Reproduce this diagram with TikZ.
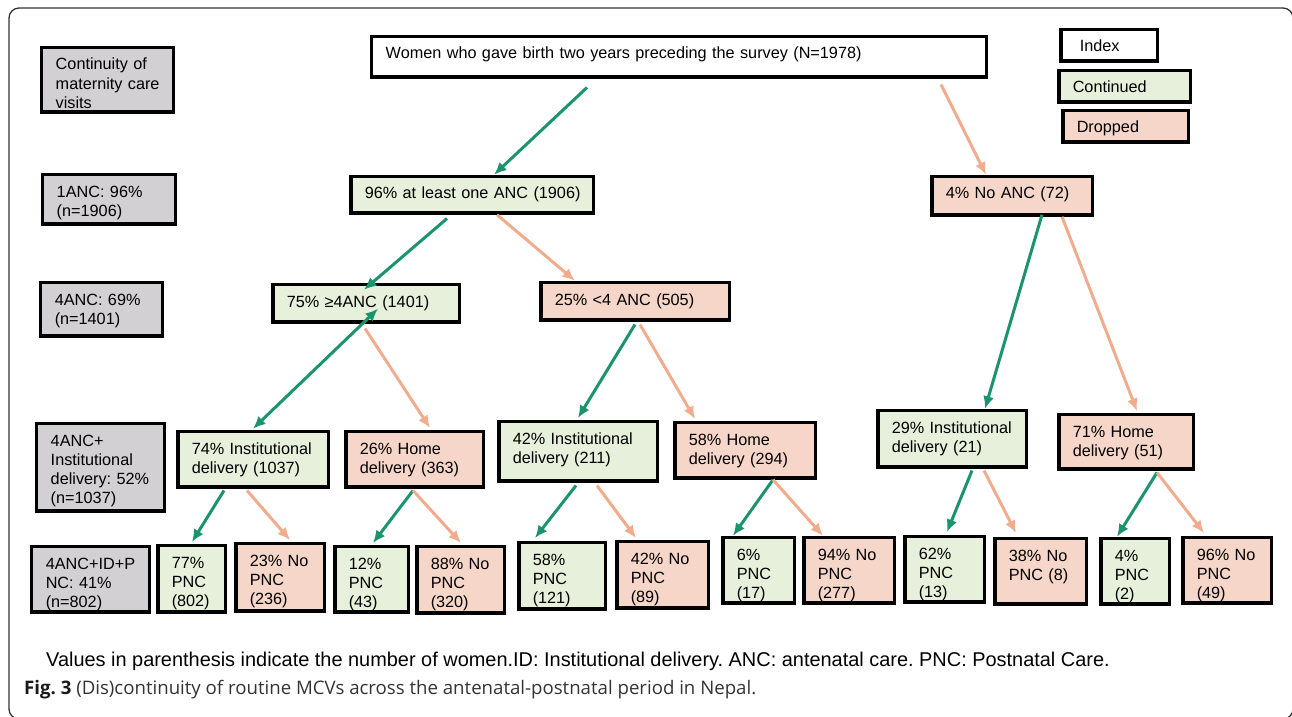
\documentclass[tikz,border=0pt]{standalone}
\usepackage{fontspec}
\setmainfont{Liberation Sans}
\newfontfamily\capfont{Open Sans}
\usetikzlibrary{arrows.meta}
\definecolor{gfill}{HTML}{E6F0DA}
\definecolor{pfill}{HTML}{F6D6C8}
\definecolor{kfill}{HTML}{D2D0D2}
\definecolor{garr}{HTML}{1B936F}
\definecolor{parr}{HTML}{F0AC8C}
\definecolor{capgray}{HTML}{333333}
\frenchspacing
\newcommand\bxt[1]{\begin{tabular}[t]{@{}l@{}}#1\end{tabular}}
% #1 style, #2 name, #3 x1, #4 y1, #5 x2, #6 y2, #7 text
\newcommand\mkbox[7]{%
  \pgfmathsetmacro\mkW{#5-#3-3.5}%
  \pgfmathsetmacro\mkT{#5-#3-3.5-28}%
  \pgfmathsetmacro\mkD{#6-#4-3.5-22.5}%
  \pgfmathsetmacro\mkX{(#3+#5)/2}%
  \pgfmathsetmacro\mkY{#4+1.75}%
  \node[#1, anchor=north, minimum width=\mkW bp, text width=\mkT bp,
        text height=22.5bp, text depth=\mkD bp] (#2) at (\mkX,\mkY) {\bxt{#7}};}
\begin{document}
\begin{tikzpicture}[x=1bp,y=-1bp,
  box/.style={draw=black, line width=3.5bp, inner xsep=14bp, inner ysep=0pt,
    align=left, font=\fontsize{16.3}{19.3}\selectfont},
  kbox/.style={box, fill=kfill},
  wbox/.style={box, fill=white},
  gbox/.style={box, fill=gfill},
  pbox/.style={box, fill=pfill},
  garrow/.style={draw=garr, line width=3bp, -{Latex[length=12.5bp,width=11bp]}},
  parrow/.style={draw=parr, line width=3bp, -{Latex[length=12.5bp,width=11bp]}},
  gdouble/.style={draw=garr, line width=3bp, {Latex[length=12.5bp,width=11bp]}-{Latex[length=12.5bp,width=11bp]}},
  frame/.style={draw=black!80, line width=1.3bp, rounded corners=10bp}]
\useasboundingbox (0,0) rectangle (1292,717);
\draw[frame] (9,8) rectangle (1293,719);

% row labels
\mkbox{kbox}{L0}{40}{44}{175}{112}{Continuity of\\maternity care\\visits}
\mkbox{kbox}{L1}{41}{171}{177}{224}{1ANC: 96\%\\(n=1906)}
\mkbox{kbox}{L2}{39}{279}{164}{336}{4ANC: 69\%\\(n=1401)}
\mkbox{kbox}{L3}{35}{420}{166}{511}{4ANC+\\Institutional\\delivery: 52\%\\(n=1037)}
\mkbox{kbox}{L4}{30}{543}{151}{612}{4ANC+ID+P\\NC: 41\%\\(n=802)}

% top and legend
\mkbox{wbox}{top}{370}{33}{988}{77}{Women who gave birth two years preceding the survey (N=1978)}
\mkbox{wbox}{idx}{1059}{26}{1159}{61}{\hspace*{5bp}Index}
\mkbox{gbox}{cont}{1057}{67}{1192}{102}{Continued}
\mkbox{pbox}{drop}{1061}{107}{1190}{142}{Dropped}

% level 1
\mkbox{gbox}{a96}{349}{173}{595}{213}{96\% at least one ANC (1906)}
\mkbox{pbox}{a4}{930}{173}{1094}{215}{4\% No ANC (72)}
% level 2
\mkbox{gbox}{b75}{271}{281}{461}{322}{75\% ≥4ANC (1401)}
\mkbox{pbox}{b25}{539}{279}{731}{320}{25\% <4 ANC (505)}
% level 3
\mkbox{gbox}{c74}{176}{428}{330}{487}{74\% Institutional\\delivery (1037)}
\mkbox{pbox}{c26}{344}{428}{485}{487}{26\% Home\\delivery (363)}
\mkbox{gbox}{c42}{497}{418}{659}{481}{42\% Institutional\\delivery (211)}
\mkbox{pbox}{c58}{673}{419}{817}{478}{58\% Home\\delivery (294)}
\mkbox{gbox}{c29}{876}{407}{1028}{467}{29\% Institutional\\delivery (21)}
\mkbox{pbox}{c71}{1057}{411}{1195}{469}{71\% Home\\delivery (51)}
% level 4
\mkbox{gbox}{d77}{156}{542}{227}{612}{77\%\\PNC\\(802)}
\mkbox{pbox}{d23}{234}{540}{326}{611}{23\% No\\PNC\\(236)}
\mkbox{gbox}{d12}{333}{543}{410}{612}{12\%\\PNC\\(43)}
\mkbox{pbox}{d88}{415}{543}{506}{613}{88\% No\\PNC\\(320)}
\mkbox{gbox}{d58}{517}{539}{607}{609}{58\%\\PNC\\(121)}
\mkbox{pbox}{d42}{615}{538}{710}{608}{42\% No\\PNC\\(89)}
\mkbox{gbox}{d6}{721}{534}{796}{603}{6\%\\PNC\\(17)}
\mkbox{pbox}{d94}{802}{534}{896}{603}{94\% No\\PNC\\(277)}
\mkbox{gbox}{d62}{903}{533}{986}{602}{62\%\\PNC\\(13)}
\mkbox{pbox}{d38}{993}{535}{1088}{604}{38\% No\\PNC (8)}
\mkbox{gbox}{d4}{1099}{535}{1171}{604}{4\%\\PNC\\(2)}
\mkbox{pbox}{d96}{1181}{534}{1273}{603}{96\% No\\PNC\\(49)}

% connectors
\draw[garrow] ([xshift=-92bp,yshift=-8.75bp]top.south) -- ([xshift=22bp]a96.north);
\draw[parrow] ([xshift=262bp,yshift=-5.75bp]top.south) -- ([xshift=-26bp]a4.north);
\draw[garrow] ([xshift=-25bp,yshift=-3.75bp]a96.south) -- ([xshift=-2bp,yshift=-7bp]b75.north);
\draw[parrow] ([xshift=25bp]a96.south) -- ([xshift=-60bp]b25.north);
\draw[gdouble] ([xshift=12bp,yshift=-5.5bp]b75.center) -- ([yshift=1bp]c74.north);
\draw[parrow] ([xshift=-1bp,yshift=-4.75bp]b75.south) -- ([xshift=15.5bp,yshift=1.75bp]c26.north);
\draw[garrow] ([yshift=-2.75bp]b25.south) -- ([yshift=1.75bp]c42.north);
\draw[parrow] ([xshift=5bp,yshift=-2.75bp]b25.south) -- ([xshift=-50bp,yshift=1.75bp]c58.north);
\draw[garrow] ([xshift=30bp,yshift=2bp]a4.south) -- ([xshift=33bp]c29.north);
\draw[parrow] ([xshift=50bp]a4.south) -- ([xshift=11bp,yshift=1.75bp]c71.north);
\draw[garrow] ([xshift=-29bp,yshift=-1.75bp]c74.south) -- ([xshift=0.5bp,yshift=1.75bp]d77.north);
\draw[parrow] ([xshift=-6bp,yshift=-1.75bp]c74.south) -- ([xshift=10bp,yshift=1.75bp]d23.north);
\draw[garrow] ([xshift=-1.5bp,yshift=-1.75bp]c26.south) -- ([xshift=1.5bp,yshift=1.75bp]d12.north);
\draw[parrow] ([xshift=-1.5bp,yshift=-1.75bp]c26.south) -- ([xshift=0.5bp,yshift=1.75bp]d88.north);
\draw[garrow] ([xshift=-2bp,yshift=-2.75bp]c42.south) -- ([xshift=-27bp,yshift=2.75bp]d58.north);
\draw[parrow] ([xshift=19bp,yshift=-2.75bp]c42.south) -- ([xshift=-26.5bp,yshift=1.75bp]d42.north);
\draw[garrow] ([xshift=28bp]c58.south) -- ([xshift=-25.5bp]d6.north);
\draw[parrow] ([xshift=28bp]c58.south) -- ([xshift=-26bp]d94.north);
\draw[garrow] ([xshift=20bp,yshift=-1.75bp]c29.south) -- ([xshift=2.5bp,yshift=2.75bp]d62.north);
\draw[parrow] ([xshift=32bp,yshift=-1.75bp]c29.south) -- ([xshift=-24.5bp,yshift=3.75bp]d38.north);
\draw[garrow] ([xshift=31bp,yshift=-1.75bp]c71.south) -- ([xshift=-18bp]d4.north);
\draw[parrow] ([xshift=31bp,yshift=-1.75bp]c71.south) -- ([xshift=-23bp,yshift=2.75bp]d96.north);

% captions
\node[anchor=base west, inner sep=0pt, font=\fontsize{20}{22}\selectfont] (note) at (46,666)
  {Values in parenthesis indicate the number of women.ID: Institutional delivery. ANC: antenatal care. PNC: Postnatal Care.};
\node[anchor=base west, inner sep=0pt, text=capgray, font=\capfont\fontsize{18.7}{21}\selectfont] (fig) at (24,694)
  {\textbf{\color{black!90}Fig. 3} (Dis)continuity of routine MCVs across the antenatal-postnatal period in Nepal.};
\end{tikzpicture}
\end{document}
